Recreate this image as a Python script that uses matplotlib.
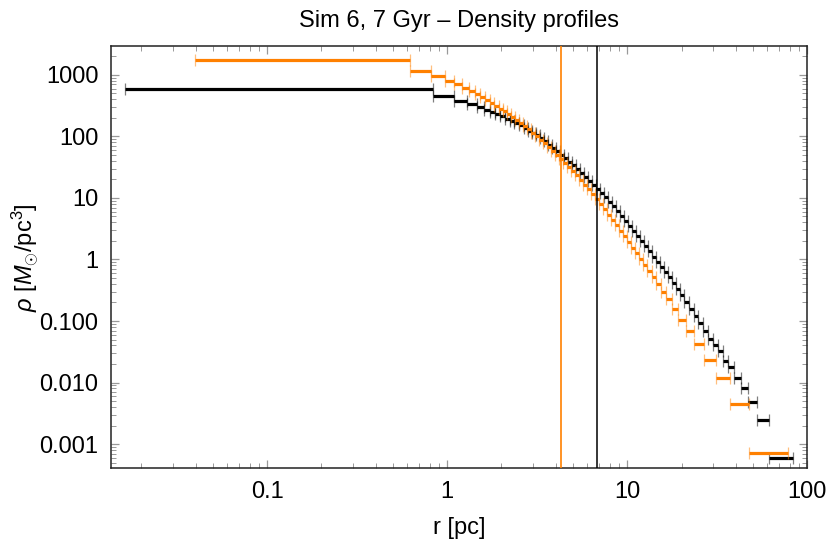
import matplotlib
matplotlib.use('Agg')
import matplotlib.pyplot as plt
import numpy as np

# ---------------- data ----------------
black_edges = [0.0162, 0.833, 1.089, 1.282, 1.457, 1.599, 1.727, 1.841, 1.963, 2.092,
               2.230, 2.362, 2.502, 2.651, 2.808, 2.955, 3.111, 3.273, 3.445, 3.626,
               3.817, 4.017, 4.228, 4.450, 4.684, 4.930, 5.188, 5.461, 5.747, 6.050,
               6.367, 6.701, 7.053, 7.423, 7.813, 8.222, 8.655, 9.109, 9.587, 10.09,
               10.62, 11.18, 11.77, 12.38, 13.03, 13.72, 14.44, 15.19, 15.99, 16.83,
               17.72, 18.65, 19.63, 20.78, 22.02, 23.32, 24.71, 26.34, 28.08, 29.93,
               31.91, 33.88, 36.26, 39.16, 42.83, 46.84, 52.36, 61.27, 82.96]
black_rho = [593, 462, 383.5, 338.8, 299.6, 270.9,
             250.5, 233.3, 214.5, 195.4, 179.0, 164.3, 150.8, 136.8, 124.9, 114.6,
             105.2, 94.6, 83.6, 73.9, 65.1, 57.6, 50.7, 44.3, 38.8, 34.0,
             29.7, 25.8, 22.2, 19.1, 16.5, 14.15, 12.0, 10.19, 8.65, 7.34,
             6.19, 5.14, 4.26, 3.54, 2.93, 2.41, 1.995, 1.643, 1.353, 1.114,
             0.918, 0.756, 0.622, 0.513, 0.413, 0.331, 0.263, 0.2025, 0.1554, 0.1210,
             0.0913, 0.0684, 0.0516, 0.0402,
             0.0328, 0.02256, 0.01763, 0.01183, 0.00805, 0.00488, 0.00244, 0.000591]

orange_edges = [0.03966, 0.6206, 0.8117, 0.9673, 1.089, 1.207, 1.320, 1.425, 1.519, 1.620,
                1.727, 1.829, 1.938, 2.039, 2.146, 2.259, 2.377, 2.502, 2.634, 2.772,
                2.917, 3.071, 3.232, 3.402, 3.580, 3.768, 3.966, 4.174, 4.393, 4.624,
                4.867, 5.122, 5.391, 5.674, 5.972, 6.285, 6.616, 6.963, 7.328, 7.713,
                8.118, 8.544, 8.992, 9.465, 9.962, 10.49, 11.04, 11.61, 12.23, 12.87,
                13.63, 14.44, 15.33, 16.41, 17.65, 19.20, 21.11, 23.48, 26.68, 31.11,
                37.20, 47.44, 77.83]
orange_rho = [1750, 1161, 952.6, 808.5, 722.8, 608.8, 556.8, 486.6,
              431.8, 386.2, 347.2, 313.9, 284.3, 256.1, 230.7, 207.8, 187.2, 167.7,
              147.7, 130.1, 114.6, 100.9, 88.6, 76.9, 66.7, 57.9, 50.2, 43.4,
              37.1, 31.7, 27.1, 23.2, 19.72, 16.49, 13.78, 11.52, 9.63, 8.01,
              6.55, 5.35, 4.38, 3.58, 2.92, 2.37, 1.921, 1.559, 1.265, 1.024,
              0.825, 0.651, 0.511,
              0.405, 0.296, 0.2256, 0.1554, 0.1057, 0.0676, 0.0416, 0.02315,
              0.01183, 0.00448, 0.000712]

r_half_orange = 4.28
r_half_black = 6.76

xtick_vals = [0.1, 1, 10, 100]
xtick_labels = ['0.1', '1', '10', '100']
ytick_vals = [1000, 100, 10, 1, 0.1, 0.01, 0.001]
ytick_labels = ['1000', '100', '10', '1', '0.100', '0.010', '0.001']

title = 'Sim 6, 7 Gyr \u2013 Density profiles'
xlabel = 'r [pc]'
ylabel = r'$\rho$ [$M_{\odot}$/pc$^3$]'

# ---------------- style ----------------
plt.rcParams['font.family'] = ['Liberation Sans', 'DejaVu Sans']
plt.rcParams['mathtext.fontset'] = 'custom'
plt.rcParams['mathtext.rm'] = 'Liberation Sans'
plt.rcParams['mathtext.it'] = 'Liberation Sans:italic'
plt.rcParams['mathtext.bf'] = 'Liberation Sans:bold'

ORANGE = '#ff8000'
BLACK = '#000000'
FS = 17

fig = plt.figure(figsize=(8.3, 5.44), dpi=100)
ax = fig.add_axes([0.1337, 0.1392, 0.9727 - 0.1337, 0.9154 - 0.1392])


def draw_bins(edges, rho, color, z):
    e = np.asarray(edges, dtype=float)
    lo, hi = e[:-1], e[1:]
    c = np.sqrt(lo * hi)
    cont = ax.errorbar(c, rho, xerr=[c - lo, hi - c], fmt='none', ecolor=color,
                       elinewidth=2.3, capsize=4.0, capthick=0.9, zorder=z)
    for cl in cont[1]:
        cl.set_alpha(0.5)
    for lc in cont[2]:
        lc.set_capstyle('butt')


draw_bins(black_edges, black_rho, BLACK, 3)
draw_bins(orange_edges, orange_rho, ORANGE, 4)

ax.axvline(r_half_orange, color=ORANGE, lw=1.2, zorder=5)
ax.axvline(r_half_black, color=BLACK, lw=1.1, zorder=5)

ax.set_xscale('log')
ax.set_yscale('log')
ax.set_xlim(0.01355, 100)
ax.set_ylim(0.000404, 2950)

ax.set_xticks(xtick_vals)
ax.set_xticklabels(xtick_labels)
ax.set_yticks(ytick_vals)
ax.set_yticklabels(ytick_labels)
ax.xaxis.set_minor_locator(matplotlib.ticker.LogLocator(base=10, subs=np.arange(2, 10)))
ax.yaxis.set_minor_locator(matplotlib.ticker.LogLocator(base=10, subs=np.arange(2, 10)))
ax.xaxis.set_minor_formatter(matplotlib.ticker.NullFormatter())
ax.yaxis.set_minor_formatter(matplotlib.ticker.NullFormatter())

ax.tick_params(which='both', direction='in', top=True, right=True,
               color='#999999', labelsize=FS, labelcolor='black')
ax.tick_params(which='major', length=6, width=0.9, pad=9)
ax.tick_params(which='minor', length=3.5, width=0.7)

for s in ax.spines.values():
    s.set_color('#222222')
    s.set_linewidth(1.1)

ax.set_title(title, fontsize=FS, pad=14)
ax.set_xlabel(xlabel, fontsize=FS, labelpad=10)
ax.set_ylabel(ylabel, fontsize=FS, labelpad=-1)

fig.savefig('out.png', dpi=100)
